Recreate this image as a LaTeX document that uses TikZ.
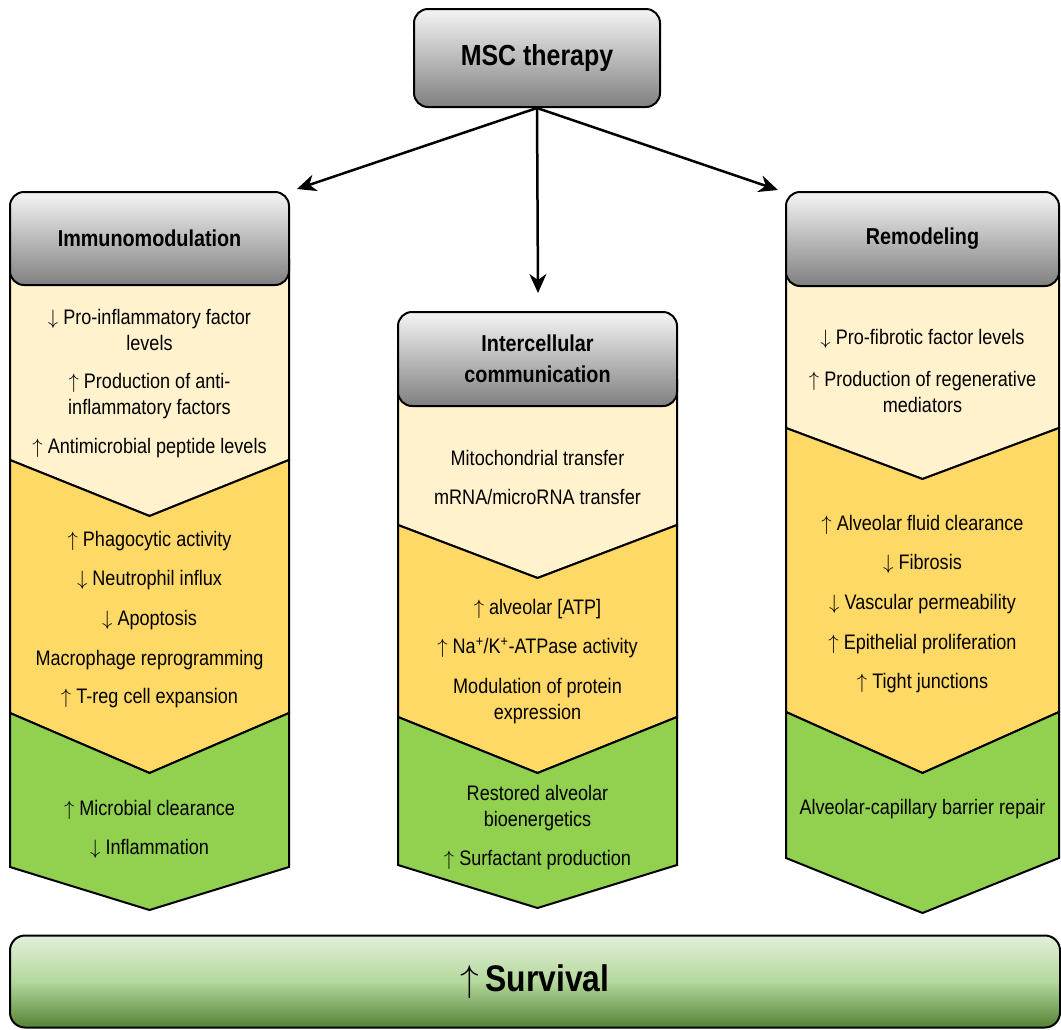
\documentclass[tikz,border=0pt]{standalone}
\usepackage{graphicx}
\usepackage{fontspec}
\setmainfont[FakeStretch=0.86]{Liberation Sans}
\usetikzlibrary{arrows.meta}

\definecolor{creamfill}{HTML}{FFF2CC}
\definecolor{yellowfill}{HTML}{FFD966}
\definecolor{greenfill}{HTML}{92D050}
\definecolor{headtop}{HTML}{F4F4F4}
\definecolor{headbot}{HTML}{808080}
\definecolor{survtop}{HTML}{E2EFDA}
\definecolor{survmid}{HTML}{B4D89C}
\definecolor{survbot}{HTML}{548235}

\newcommand{\incr}{$\uparrow$}
\newcommand{\decr}{$\downarrow$}

\tikzset{
  header/.style={draw, line width=2pt, rounded corners=14pt, top color=headtop, bottom color=headbot,
    inner sep=0pt, align=center, font=\fontsize{23}{31}\selectfont\bfseries},
  band/.style={draw, line width=2pt, line join=miter},
  item/.style={inner sep=0pt, align=center, font=\fontsize{21}{26.5}\selectfont},
  link/.style={line width=2.5pt, -{Stealth[length=19pt,width=17pt,inset=6pt]}},
}

\begin{document}
\begin{tikzpicture}[x=1pt, y=-1pt]
    \useasboundingbox (0,0) rectangle (1061,1029);

    % bands, left column
    \path[band, fill=creamfill] (10,260) -- (289,260) -- (289,460) -- (149.5,516) -- (10,460) -- cycle;
    \path[band, fill=yellowfill] (10,460) -- (149.5,516) -- (289,460) -- (289,713) -- (149.5,773) -- (10,713) -- cycle;
    \path[band, fill=greenfill] (10,713) -- (149.5,773) -- (289,713) -- (289,867) -- (149.5,910) -- (10,867) -- cycle;
    % bands, middle column
    \path[band, fill=creamfill] (398,380) -- (677,380) -- (677,525) -- (537.5,578) -- (398,525) -- cycle;
    \path[band, fill=yellowfill] (398,525) -- (537.5,578) -- (677,525) -- (677,717) -- (537.5,773) -- (398,717) -- cycle;
    \path[band, fill=greenfill] (398,717) -- (537.5,773) -- (677,717) -- (677,865) -- (537.5,908) -- (398,865) -- cycle;
    % bands, right column
    \path[band, fill=creamfill] (786,260) -- (1059,260) -- (1059,428) -- (922.5,479) -- (786,428) -- cycle;
    \path[band, fill=yellowfill] (786,428) -- (922.5,479) -- (1059,428) -- (1059,712) -- (922.5,773) -- (786,712) -- cycle;
    \path[band, fill=greenfill] (786,712) -- (922.5,773) -- (1059,712) -- (1059,858) -- (922.5,913) -- (786,858) -- cycle;

    % headers
    \node[header, minimum width=246pt, minimum height=98pt, font=\fontsize{29}{34}\selectfont\bfseries] (msc) at (537,58) {MSC therapy};
    \node[header, minimum width=279pt, minimum height=93pt] (immuno) at (149.5,238.5) {Immunomodulation};
    \node[header, minimum width=279pt, minimum height=94pt] (inter) at (537.5,359) {Intercellular\\communication};
    \node[header, minimum width=273pt, minimum height=94pt] (remod) at (922.5,239) {Remodeling};

    % immunomodulation
    \node[item] (im1) at (149.5,330) {\decr{} Pro-inflammatory factor\\levels};
    \node[item] (im2) at (149.5,396) {\incr{} Production of anti-\\inflammatory factors};
    \node[item] (im3) at (149.5,448) {\incr{} Antimicrobial peptide levels};
    \node[item] (im4) at (149.5,541) {\incr{} Phagocytic activity};
    \node[item] (im5) at (149.5,580) {\decr{} Neutrophil influx};
    \node[item] (im6) at (149.5,620) {\decr{} Apoptosis};
    \node[item] (im7) at (149.5,660) {Macrophage reprogramming};
    \node[item] (im8) at (149.5,698) {\incr{} T-reg cell expansion};
    \node[item] (im9) at (149.5,810) {\incr{} Microbial clearance};
    \node[item] (im10) at (149.5,849) {\decr{} Inflammation};

    % intercellular communication
    \node[item] (ic1) at (537.5,458) {Mitochondrial transfer};
    \node[item] (ic2) at (537.5,497) {mRNA/microRNA transfer};
    \node[item] (ic3) at (537.5,609) {\incr{} alveolar [ATP]};
    \node[item] (ic4) at (537.5,648) {\incr{} Na\textsuperscript{+}/K\textsuperscript{+}-ATPase activity};
    \node[item] (ic5) at (537.5,701) {Modulation of protein\\expression};
    \node[item] (ic6) at (537.5,808) {Restored alveolar\\bioenergetics};
    \node[item] (ic7) at (537.5,860) {\incr{} Surfactant production};

    % remodeling
    \node[item] (rm1) at (922.5,339) {\decr{} Pro-fibrotic factor levels};
    \node[item] (rm2) at (922.5,392) {\incr{} Production of regenerative\\mediators};
    \node[item] (rm3) at (922.5,525) {\incr{} Alveolar fluid clearance};
    \node[item] (rm4) at (922.5,564) {\decr{} Fibrosis};
    \node[item] (rm5) at (922.5,604) {\decr{} Vascular permeability};
    \node[item] (rm6) at (922.5,644) {\incr{} Epithelial proliferation};
    \node[item] (rm7) at (922.5,683) {\incr{} Tight junctions};
    \node[item] (rm8) at (922.5,809) {Alveolar-capillary barrier repair};

    % outcome
    \node[draw, line width=2pt, rounded corners=15pt, top color=survtop, bottom color=survbot, middle color=survmid,
      minimum width=1050pt, minimum height=92pt, inner sep=0pt, font=\fontsize{37}{42}\selectfont\bfseries] (surv) at (535,981.5) {\scalebox{1.5}{\incr}\,Survival};

    % links
    \coordinate (tipL) at (297,189);
    \coordinate (tipM) at (538,293);
    \coordinate (tipR) at (778,190);
    \draw[link] (msc.south) -- (tipL);
    \draw[link] (msc.south) -- (tipM);
    \draw[link] (msc.south) -- (tipR);
\end{tikzpicture}
\end{document}
